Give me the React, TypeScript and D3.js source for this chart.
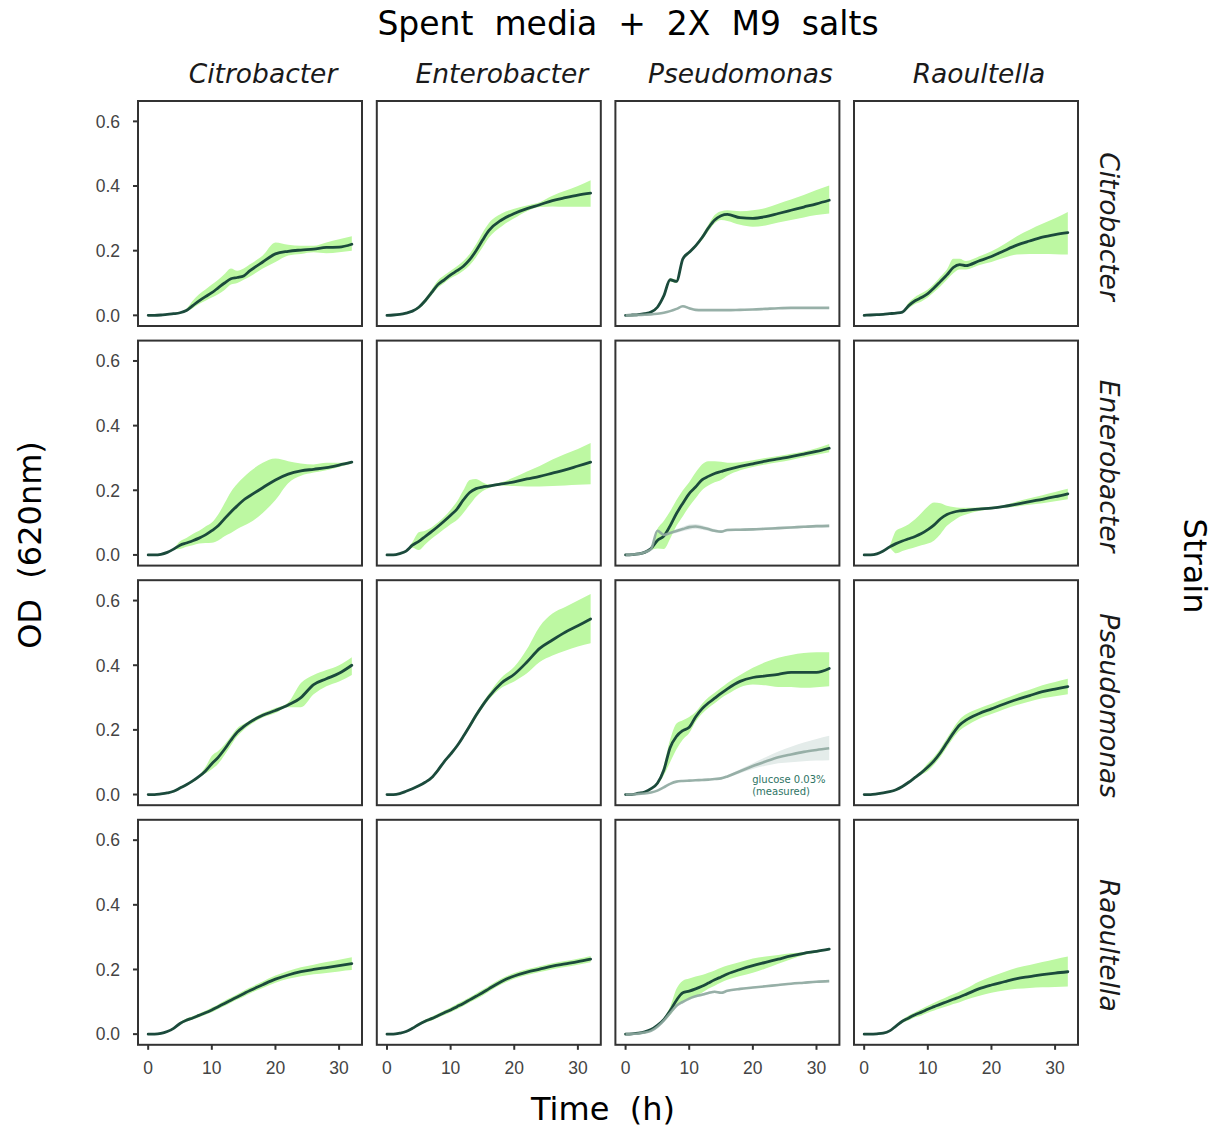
import React from "react";
import * as d3 from "d3";

// ---------- data ----------
const TIME = [0,1,2,3,4,5,6,7,8,9,10,11,12,13,14,15,16,18,20,22,24,26,28,30,32];
const GENERA = ["Citrobacter","Enterobacter","Pseudomonas","Raoultella"];
const X_TICKS = [0,10,20,30];
const Y_TICKS = [0,0.2,0.4,0.6];
const ANNOT_LINES = ["glucose 0.03%","(measured)"];

// row = strain, col = spent medium. suffix M = mean, H = upper, L = lower
const CC_M = [0,0,0.001,0.003,0.005,0.008,0.015,0.03,0.045,0.058,0.07,0.085,0.1,0.113,0.117,0.122,0.138,0.165,0.19,0.198,0.202,0.205,0.21,0.211,0.22];
const CC_H = [0,0,0.002,0.004,0.006,0.01,0.02,0.045,0.065,0.08,0.095,0.11,0.128,0.145,0.138,0.145,0.158,0.185,0.225,0.218,0.215,0.215,0.225,0.235,0.245];
const CC_L = [0,0,0,0.002,0.004,0.006,0.012,0.022,0.035,0.045,0.055,0.065,0.078,0.095,0.1,0.11,0.12,0.145,0.165,0.185,0.19,0.195,0.192,0.195,0.2];

const CE_M = [0,0.001,0.003,0.007,0.013,0.025,0.045,0.07,0.095,0.11,0.125,0.138,0.152,0.172,0.2,0.232,0.262,0.295,0.315,0.33,0.342,0.355,0.364,0.372,0.378];
const CE_H = [0,0.001,0.004,0.008,0.016,0.03,0.052,0.08,0.108,0.124,0.138,0.152,0.168,0.19,0.22,0.255,0.285,0.315,0.33,0.34,0.35,0.37,0.385,0.4,0.418];
const CE_L = [0,0.001,0.002,0.006,0.011,0.02,0.038,0.062,0.085,0.1,0.115,0.125,0.138,0.155,0.18,0.21,0.24,0.275,0.3,0.322,0.335,0.337,0.336,0.336,0.336];

const CP_M = [0,0.001,0.002,0.005,0.01,0.025,0.06,0.11,0.105,0.175,0.195,0.215,0.24,0.27,0.295,0.308,0.312,0.302,0.3,0.305,0.315,0.325,0.335,0.345,0.356];
const CP_H = [0,0.001,0.003,0.006,0.012,0.028,0.064,0.115,0.11,0.18,0.2,0.22,0.248,0.28,0.31,0.322,0.325,0.322,0.325,0.332,0.345,0.358,0.372,0.388,0.402];
const CP_L = [0,0.001,0.001,0.004,0.008,0.022,0.056,0.105,0.1,0.17,0.19,0.21,0.232,0.26,0.285,0.295,0.292,0.28,0.274,0.278,0.287,0.295,0.303,0.31,0.315];
const CP_GM = [0,0,0.001,0.002,0.003,0.005,0.008,0.013,0.02,0.028,0.022,0.017,0.016,0.016,0.016,0.016,0.016,0.017,0.018,0.02,0.022,0.023,0.023,0.023,0.023];
const CP_GH = [0,0,0.002,0.003,0.005,0.007,0.01,0.015,0.023,0.031,0.025,0.019,0.018,0.018,0.018,0.018,0.018,0.019,0.02,0.022,0.024,0.025,0.025,0.025,0.025];
const CP_GL = [0,0,0,0.001,0.001,0.003,0.006,0.011,0.017,0.025,0.019,0.015,0.014,0.014,0.014,0.014,0.014,0.015,0.016,0.018,0.02,0.021,0.021,0.021,0.021];

const CR_M = [0,0.001,0.002,0.003,0.005,0.007,0.01,0.03,0.045,0.055,0.067,0.085,0.105,0.125,0.148,0.157,0.154,0.168,0.182,0.2,0.217,0.23,0.242,0.25,0.256];
const CR_H = [0,0.001,0.002,0.004,0.006,0.008,0.012,0.04,0.057,0.068,0.08,0.098,0.12,0.142,0.175,0.175,0.168,0.182,0.198,0.22,0.245,0.265,0.283,0.3,0.32];
const CR_L = [0,0.001,0.002,0.002,0.004,0.006,0.008,0.022,0.035,0.043,0.055,0.072,0.09,0.11,0.13,0.142,0.142,0.155,0.165,0.178,0.188,0.19,0.19,0.189,0.188];

const EC_M = [0,0,0.002,0.008,0.018,0.03,0.037,0.044,0.052,0.062,0.075,0.09,0.112,0.133,0.152,0.17,0.183,0.208,0.232,0.25,0.26,0.265,0.27,0.278,0.287];
const EC_H = [0,0,0.002,0.009,0.02,0.042,0.052,0.065,0.075,0.088,0.1,0.125,0.16,0.195,0.22,0.24,0.258,0.285,0.298,0.29,0.283,0.28,0.285,0.285,0.29];
const EC_L = [0,0,0.002,0.007,0.016,0.018,0.025,0.03,0.035,0.037,0.038,0.045,0.058,0.068,0.08,0.09,0.1,0.13,0.17,0.222,0.245,0.255,0.262,0.272,0.283];

const EE_M = [0,0,0.004,0.012,0.03,0.042,0.057,0.072,0.088,0.105,0.123,0.142,0.17,0.193,0.205,0.21,0.213,0.22,0.226,0.235,0.243,0.253,0.263,0.275,0.287];
const EE_H = [0,0,0.005,0.014,0.04,0.07,0.075,0.085,0.1,0.118,0.14,0.165,0.2,0.232,0.235,0.225,0.218,0.225,0.24,0.258,0.275,0.295,0.312,0.328,0.346];
const EE_L = [0,0,0.003,0.01,0.022,0.015,0.032,0.05,0.065,0.08,0.095,0.108,0.13,0.155,0.18,0.197,0.207,0.215,0.213,0.212,0.212,0.213,0.215,0.217,0.219];

const EP_M = [0,0.001,0.003,0.008,0.02,0.045,0.058,0.09,0.128,0.16,0.19,0.21,0.232,0.243,0.252,0.258,0.264,0.274,0.282,0.29,0.297,0.304,0.312,0.32,0.33];
const EP_H = [0,0.001,0.004,0.01,0.025,0.08,0.105,0.135,0.17,0.2,0.225,0.255,0.28,0.29,0.29,0.288,0.285,0.287,0.293,0.3,0.306,0.313,0.32,0.33,0.343];
const EP_L = [0,0.001,0.002,0.006,0.015,0.02,0.018,0.05,0.09,0.12,0.15,0.175,0.2,0.215,0.225,0.232,0.245,0.262,0.272,0.28,0.287,0.294,0.302,0.31,0.318];
const EP_GM = [0,0.001,0.003,0.008,0.018,0.075,0.062,0.068,0.074,0.08,0.086,0.088,0.085,0.08,0.075,0.072,0.077,0.078,0.079,0.081,0.083,0.085,0.087,0.089,0.09];
const EP_GH = [0,0.001,0.004,0.009,0.02,0.079,0.066,0.073,0.08,0.087,0.094,0.096,0.092,0.086,0.08,0.076,0.081,0.082,0.083,0.085,0.087,0.089,0.091,0.093,0.094];
const EP_GL = [0,0.001,0.002,0.007,0.016,0.071,0.058,0.063,0.068,0.073,0.078,0.08,0.078,0.074,0.07,0.068,0.073,0.074,0.075,0.077,0.079,0.081,0.083,0.085,0.086];

const ER_M = [0,0,0.003,0.012,0.025,0.035,0.043,0.05,0.057,0.066,0.078,0.093,0.112,0.125,0.132,0.136,0.138,0.142,0.145,0.15,0.157,0.165,0.172,0.18,0.189];
const ER_H = [0,0,0.004,0.014,0.03,0.075,0.085,0.095,0.11,0.13,0.15,0.162,0.16,0.152,0.148,0.146,0.146,0.147,0.149,0.154,0.165,0.175,0.185,0.195,0.205];
const ER_L = [0,0,0.002,0.01,0.02,0.005,0.012,0.018,0.024,0.03,0.035,0.045,0.065,0.09,0.105,0.118,0.125,0.136,0.141,0.146,0.15,0.155,0.16,0.166,0.172];

const PC_M = [0,0,0.002,0.005,0.01,0.02,0.03,0.042,0.056,0.073,0.095,0.115,0.14,0.168,0.193,0.21,0.224,0.245,0.26,0.277,0.3,0.34,0.358,0.375,0.4];
const PC_H = [0,0,0.003,0.007,0.013,0.023,0.033,0.046,0.06,0.085,0.12,0.135,0.155,0.18,0.205,0.218,0.23,0.252,0.268,0.285,0.345,0.37,0.385,0.4,0.425];
const PC_L = [0,0,0.001,0.003,0.008,0.017,0.027,0.038,0.052,0.065,0.078,0.095,0.122,0.152,0.18,0.2,0.215,0.238,0.252,0.27,0.27,0.31,0.335,0.35,0.37];

const PE_M = [0,0,0.003,0.01,0.018,0.027,0.038,0.052,0.075,0.102,0.125,0.15,0.18,0.212,0.245,0.275,0.302,0.345,0.372,0.41,0.452,0.478,0.502,0.522,0.543];
const PE_H = [0,0,0.004,0.012,0.02,0.03,0.041,0.056,0.08,0.107,0.13,0.155,0.186,0.22,0.253,0.284,0.312,0.362,0.395,0.45,0.52,0.56,0.58,0.6,0.62];
const PE_L = [0,0,0.002,0.008,0.016,0.024,0.035,0.048,0.07,0.097,0.12,0.145,0.174,0.205,0.237,0.267,0.293,0.33,0.35,0.375,0.41,0.43,0.445,0.458,0.468];

const PP_M = [0,0,0.004,0.008,0.018,0.035,0.075,0.145,0.18,0.198,0.208,0.24,0.265,0.283,0.298,0.313,0.327,0.35,0.362,0.367,0.372,0.378,0.378,0.378,0.39];
const PP_H = [0,0,0.005,0.01,0.02,0.04,0.09,0.17,0.22,0.23,0.24,0.255,0.28,0.3,0.315,0.33,0.345,0.37,0.392,0.41,0.423,0.432,0.438,0.44,0.44];
const PP_L = [0,0,0.003,0.006,0.016,0.03,0.06,0.1,0.14,0.17,0.19,0.225,0.25,0.268,0.282,0.298,0.31,0.332,0.34,0.338,0.333,0.333,0.33,0.332,0.335];
const PP_GM = [0,0,0.002,0.003,0.006,0.012,0.022,0.033,0.04,0.042,0.043,0.044,0.045,0.046,0.048,0.05,0.056,0.072,0.088,0.102,0.115,0.124,0.132,0.138,0.143];
const PP_GH = [0,0,0.003,0.004,0.007,0.013,0.023,0.034,0.041,0.043,0.044,0.045,0.046,0.047,0.05,0.053,0.06,0.078,0.097,0.115,0.133,0.148,0.161,0.172,0.182];
const PP_GL = [0,0,0.001,0.002,0.005,0.011,0.021,0.032,0.039,0.041,0.042,0.043,0.044,0.045,0.046,0.047,0.052,0.066,0.079,0.089,0.097,0.1,0.103,0.105,0.106];

const PR_M = [0,0,0.002,0.005,0.009,0.015,0.025,0.038,0.053,0.068,0.085,0.105,0.13,0.16,0.19,0.215,0.23,0.25,0.265,0.28,0.294,0.306,0.318,0.326,0.334];
const PR_H = [0,0,0.003,0.007,0.012,0.018,0.028,0.042,0.058,0.074,0.097,0.117,0.143,0.174,0.205,0.232,0.248,0.266,0.281,0.296,0.311,0.324,0.338,0.348,0.358];
const PR_L = [0,0,0.001,0.003,0.006,0.012,0.022,0.034,0.048,0.062,0.073,0.093,0.117,0.146,0.175,0.198,0.212,0.234,0.249,0.264,0.277,0.288,0.298,0.304,0.31];

const RC_M = [0,0,0.002,0.008,0.018,0.033,0.043,0.05,0.058,0.066,0.075,0.085,0.095,0.105,0.115,0.125,0.135,0.153,0.17,0.183,0.193,0.2,0.206,0.212,0.218];
const RC_H = [0,0,0.003,0.01,0.021,0.037,0.048,0.055,0.064,0.072,0.082,0.092,0.103,0.113,0.123,0.134,0.144,0.163,0.181,0.195,0.207,0.215,0.223,0.23,0.238];
const RC_L = [0,0,0.001,0.006,0.015,0.029,0.038,0.045,0.052,0.06,0.068,0.078,0.087,0.097,0.107,0.116,0.126,0.143,0.159,0.171,0.179,0.185,0.189,0.194,0.198];

const RE_M = [0,0,0.003,0.008,0.018,0.03,0.04,0.048,0.057,0.066,0.075,0.085,0.095,0.106,0.117,0.128,0.14,0.163,0.18,0.192,0.201,0.21,0.217,0.224,0.232];
const RE_H = [0,0,0.004,0.01,0.021,0.034,0.045,0.054,0.063,0.073,0.082,0.093,0.103,0.114,0.126,0.137,0.149,0.172,0.189,0.201,0.21,0.219,0.226,0.233,0.242];
const RE_L = [0,0,0.002,0.006,0.015,0.026,0.035,0.042,0.051,0.059,0.068,0.077,0.087,0.098,0.108,0.119,0.131,0.154,0.171,0.183,0.192,0.201,0.208,0.215,0.222];

const RP_M = [0,0.001,0.003,0.007,0.014,0.027,0.045,0.072,0.105,0.128,0.133,0.14,0.148,0.158,0.168,0.177,0.186,0.2,0.212,0.222,0.232,0.242,0.25,0.256,0.263];
const RP_H = [0,0.001,0.004,0.008,0.016,0.03,0.05,0.085,0.14,0.165,0.172,0.178,0.183,0.19,0.197,0.205,0.212,0.223,0.234,0.24,0.245,0.25,0.254,0.26,0.266];
const RP_L = [0,0.001,0.002,0.006,0.012,0.024,0.04,0.06,0.085,0.1,0.11,0.118,0.128,0.14,0.15,0.16,0.168,0.18,0.19,0.203,0.218,0.232,0.245,0.252,0.26];
const RP_GM = [0,0.001,0.002,0.005,0.01,0.023,0.042,0.065,0.088,0.1,0.11,0.117,0.122,0.127,0.131,0.128,0.134,0.14,0.144,0.148,0.152,0.156,0.159,0.162,0.164];
const RP_GH = [0,0.001,0.003,0.007,0.012,0.026,0.046,0.07,0.093,0.105,0.115,0.121,0.126,0.131,0.135,0.132,0.137,0.143,0.147,0.151,0.155,0.159,0.162,0.165,0.167];
const RP_GL = [0,0.001,0.001,0.003,0.008,0.02,0.038,0.06,0.083,0.095,0.105,0.113,0.118,0.123,0.127,0.124,0.131,0.137,0.141,0.145,0.149,0.153,0.156,0.159,0.161];

const RR_M = [0,0,0.001,0.003,0.01,0.025,0.04,0.05,0.06,0.068,0.077,0.085,0.093,0.1,0.108,0.115,0.123,0.14,0.152,0.162,0.172,0.178,0.184,0.189,0.193];
const RR_H = [0,0,0.002,0.004,0.012,0.028,0.045,0.058,0.068,0.078,0.088,0.097,0.106,0.115,0.123,0.132,0.141,0.162,0.178,0.192,0.205,0.214,0.223,0.232,0.24];
const RR_L = [0,0,0,0.002,0.008,0.022,0.035,0.043,0.052,0.058,0.066,0.073,0.08,0.086,0.093,0.099,0.106,0.118,0.128,0.135,0.14,0.143,0.145,0.146,0.147];

type Series = { m: number[]; h: number[]; l: number[] };
type Panel = { row: number; col: number; main: Series; gluc?: Series; note?: boolean };

const PANELS: Panel[] = [
  { row: 0, col: 0, main: { m: CC_M, h: CC_H, l: CC_L } },
  { row: 0, col: 1, main: { m: CE_M, h: CE_H, l: CE_L } },
  { row: 0, col: 2, main: { m: CP_M, h: CP_H, l: CP_L }, gluc: { m: CP_GM, h: CP_GH, l: CP_GL } },
  { row: 0, col: 3, main: { m: CR_M, h: CR_H, l: CR_L } },
  { row: 1, col: 0, main: { m: EC_M, h: EC_H, l: EC_L } },
  { row: 1, col: 1, main: { m: EE_M, h: EE_H, l: EE_L } },
  { row: 1, col: 2, main: { m: EP_M, h: EP_H, l: EP_L }, gluc: { m: EP_GM, h: EP_GH, l: EP_GL } },
  { row: 1, col: 3, main: { m: ER_M, h: ER_H, l: ER_L } },
  { row: 2, col: 0, main: { m: PC_M, h: PC_H, l: PC_L } },
  { row: 2, col: 1, main: { m: PE_M, h: PE_H, l: PE_L } },
  { row: 2, col: 2, main: { m: PP_M, h: PP_H, l: PP_L }, gluc: { m: PP_GM, h: PP_GH, l: PP_GL }, note: true },
  { row: 2, col: 3, main: { m: PR_M, h: PR_H, l: PR_L } },
  { row: 3, col: 0, main: { m: RC_M, h: RC_H, l: RC_L } },
  { row: 3, col: 1, main: { m: RE_M, h: RE_H, l: RE_L } },
  { row: 3, col: 2, main: { m: RP_M, h: RP_H, l: RP_L }, gluc: { m: RP_GM, h: RP_GH, l: RP_GL } },
  { row: 3, col: 3, main: { m: RR_M, h: RR_H, l: RR_L } },
];

// ---------- layout ----------
const W = 1221, H = 1129;
const COL_X = [138, 376.8, 615.4, 854];
const ROW_Y = [101, 340.6, 580.2, 819.8];
const PW = 224, PH = 225;
const STRIP_SHIFT = 13;

const LINE_COL = "#1b4a3c";
const RIBBON_COL = "#bdf8a2";
const GLUC_COL = "#8ea9a0";
const GLUC_RIB = "#e4ecea";
const TICK_TXT = "#444";
const FONT = "'DejaVu Sans', sans-serif";
const TICK_FONT = "'Liberation Sans', Arial, sans-serif";

function PanelView({ p }: { p: Panel }) {
  const x0 = COL_X[p.col], y0 = ROW_Y[p.row];
  const x = d3.scaleLinear().domain([-1.6, 33.6]).range([x0, x0 + PW]);
  const y = d3.scaleLinear().domain([-0.033, 0.663]).range([y0 + PH, y0]);
  const idx = d3.range(TIME.length);
  const area = (s: Series) =>
    d3.area<number>().x((i) => x(TIME[i])).y0((i) => y(s.l[i])).y1((i) => y(s.h[i])).curve(d3.curveMonotoneX)(idx) || "";
  const line = (s: Series) =>
    d3.line<number>().x((i) => x(TIME[i])).y((i) => y(s.m[i])).curve(d3.curveMonotoneX)(idx) || "";
  const clipId = `clip-${p.row}-${p.col}`;
  return (
    <g>
      <defs>
        <clipPath id={clipId}>
          <rect x={x0} y={y0} width={PW} height={PH} />
        </clipPath>
      </defs>
      <rect x={x0} y={y0} width={PW} height={PH} fill="#fff" />
      <g clipPath={`url(#${clipId})`}>
        {p.gluc && <path d={area(p.gluc)} fill={GLUC_RIB} />}
        <path d={area(p.main)} fill={RIBBON_COL} />
        <path d={line(p.main)} fill="none" stroke={LINE_COL} strokeWidth={2.8} strokeLinejoin="round" strokeLinecap="round" />
        {p.gluc && <path d={line(p.gluc)} fill="none" stroke={GLUC_COL} strokeWidth={2.6} strokeOpacity={0.9} strokeLinejoin="round" />}
        {p.note && (
          <text x={x(19.9)} y={y(0.035)} fontFamily={FONT} fontSize={10} fill="#2e7464">
            <tspan x={x(19.9)}>{ANNOT_LINES[0]}</tspan>
            <tspan x={x(19.9)} dy={12}>{ANNOT_LINES[1]}</tspan>
          </text>
        )}
      </g>
      <rect x={x0} y={y0} width={PW} height={PH} fill="none" stroke="#333" strokeWidth={2} />
      {p.col === 0 &&
        Y_TICKS.map((t) => (
          <g key={t}>
            <line x1={x0 - 5} x2={x0} y1={y(t)} y2={y(t)} stroke="#333" strokeWidth={2} />
            <text x={x0 - 18} y={y(t)} dy="0.36em" textAnchor="end" fontFamily={TICK_FONT} fontSize={17.5} fill={TICK_TXT}>
              {d3.format(".1f")(t)}
            </text>
          </g>
        ))}
      {p.row === 3 &&
        X_TICKS.map((t) => (
          <g key={t}>
            <line x1={x(t)} x2={x(t)} y1={y0 + PH} y2={y0 + PH + 5} stroke="#333" strokeWidth={2} />
            <text x={x(t)} y={y0 + PH + 29} textAnchor="middle" fontFamily={TICK_FONT} fontSize={17.5} fill={TICK_TXT}>
              {t}
            </text>
          </g>
        ))}
    </g>
  );
}

export default function App() {
  return (
    <svg width={W} height={H} style={{ position: "absolute", left: 0, top: 0, background: "#fff" }}>
      <rect width={W} height={H} fill="#fff" />
      <text x={628} y={35} textAnchor="middle" fontFamily={FONT} fontSize={33} fill="#000" style={{ whiteSpace: "pre" }}>
        {"Spent  media  +  2X  M9  salts"}
      </text>
      {GENERA.map((g, i) => (
        <text key={"top" + g} x={COL_X[i] + PW / 2 + STRIP_SHIFT} y={83} textAnchor="middle" fontFamily={FONT} fontStyle="italic" fontSize={26.5} fill="#1a1a1a">
          {g}
        </text>
      ))}
      {GENERA.map((g, i) => (
        <text key={"right" + g} transform={`translate(${COL_X[3] + PW + 22},${ROW_Y[i] + PH / 2 + STRIP_SHIFT}) rotate(90)`} textAnchor="middle" fontFamily={FONT} fontStyle="italic" fontSize={26.5} fill="#1a1a1a">
          {g}
        </text>
      ))}
      {PANELS.map((p) => (
        <PanelView key={`${p.row}-${p.col}`} p={p} />
      ))}
      <text x={603} y={1120} textAnchor="middle" fontFamily={FONT} fontSize={32} fill="#000" style={{ whiteSpace: "pre" }}>
        {"Time  (h)"}
      </text>
      <text transform="translate(41,545) rotate(-90)" textAnchor="middle" fontFamily={FONT} fontSize={32} fill="#000" style={{ whiteSpace: "pre" }}>
        {"OD  (620nm)"}
      </text>
      <text transform="translate(1184,566) rotate(90)" textAnchor="middle" fontFamily={FONT} fontSize={32} fill="#000">
        Strain
      </text>
    </svg>
  );
}
